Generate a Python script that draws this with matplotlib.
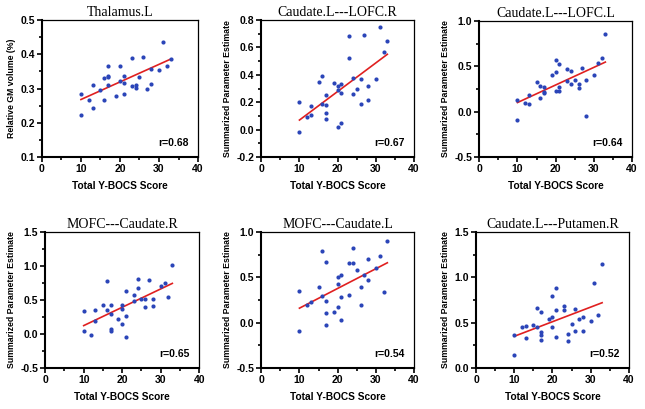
import matplotlib
matplotlib.use('Agg')
import matplotlib.pyplot as plt
from matplotlib.ticker import MultipleLocator

# panel 1: Thalamus.L (31 points)
thal_x = [10, 10, 12, 13, 13, 15, 16, 16, 17, 17, 17, 17, 19, 20, 20, 21,
          21, 21, 23, 23, 24, 24, 25, 26, 27, 28, 28, 30, 31, 32, 33]
thal_y = [0.285, 0.223, 0.268, 0.310, 0.242, 0.296, 0.330, 0.268, 0.366, 0.337,
          0.333, 0.310, 0.279, 0.366, 0.322, 0.337, 0.316, 0.284, 0.390, 0.308,
          0.310, 0.302, 0.334, 0.393, 0.298, 0.358, 0.314, 0.354, 0.437, 0.365,
          0.387]

# panel 2: Caudate.L---LOFC.R
lofcr_x = [10, 10, 12, 13, 13, 15, 16, 16, 17, 17, 17, 17, 19, 20, 20, 20, 21,
           21, 21, 23, 23, 24, 24, 25, 26, 26, 27, 28, 28, 30, 31, 32, 33]
lofcr_y = [0.20, -0.02, 0.09, 0.17, 0.11, 0.35, 0.39, 0.19, 0.25, 0.18, 0.12,
           0.08, 0.34, 0.32, 0.29, 0.02, 0.33, 0.27, 0.05, 0.68, 0.52, 0.38,
           0.26, 0.30, 0.37, 0.19, 0.69, 0.32, 0.22, 0.37, 0.75, 0.57, 0.65]

# panel 3: Caudate.L---LOFC.L
lofcl_x = [10, 10, 12, 13, 13, 15, 16, 16, 17, 17, 17, 19, 20, 20, 20, 21, 21,
           21, 23, 23, 24, 24, 25, 26, 26, 27, 28, 28, 30, 31, 32, 33]
lofcl_y = [0.13, -0.09, 0.10, 0.18, 0.08, 0.33, 0.28, 0.15, 0.27, 0.22, 0.20,
           0.40, 0.57, 0.44, 0.23, 0.53, 0.27, 0.23, 0.47, 0.34, 0.45, 0.31,
           0.35, 0.30, 0.26, 0.48, 0.35, -0.05, 0.40, 0.54, 0.59, 0.86]

# panel 4: MOFC---Caudate.R
mcr_x = [10, 10, 12, 13, 13, 15, 16, 16, 17, 17, 17, 17, 19, 20, 20, 20, 21,
         21, 21, 23, 23, 24, 24, 25, 26, 26, 27, 28, 28, 30, 31, 32, 33]
mcr_y = [0.34, 0.04, -0.01, 0.35, 0.19, 0.43, 0.78, 0.35, 0.43, 0.30, 0.07,
         0.04, 0.22, 0.43, 0.37, 0.15, 0.63, 0.26, -0.04, 0.57, 0.49, 0.81,
         0.68, 0.52, 0.52, 0.39, 0.80, 0.52, 0.41, 0.71, 0.75, 0.55, 1.02]

# panel 5: MOFC---Caudate.L
mcl_x = [10, 10, 12, 13, 15, 16, 16, 17, 17, 17, 17, 19, 20, 20, 20, 21, 21,
         21, 23, 23, 24, 24, 25, 26, 26, 27, 28, 28, 30, 31, 32, 33]
mcl_y = [0.35, -0.09, 0.20, 0.23, 0.39, 0.79, 0.29, 0.67, 0.24, 0.11, -0.02,
         0.12, 0.50, 0.43, 0.17, 0.52, 0.28, 0.03, 0.66, 0.31, 0.82, 0.66,
         0.58, 0.39, 0.20, 0.53, 0.70, 0.47, 0.60, 0.73, 0.34, 0.90]

# panel 6: Caudate.L---Putamen.R
put_x = [10, 10, 12, 13, 13, 15, 16, 16, 17, 17, 17, 17, 19, 20, 20, 20, 21,
         21, 21, 23, 23, 24, 24, 25, 26, 26, 27, 28, 28, 30, 31, 32, 33]
put_y = [0.37, 0.14, 0.45, 0.46, 0.33, 0.48, 0.66, 0.45, 0.62, 0.40, 0.37,
         0.31, 0.54, 0.79, 0.56, 0.45, 0.88, 0.64, 0.34, 0.68, 0.64, 0.38,
         0.30, 0.49, 0.65, 0.41, 0.54, 0.56, 0.41, 0.52, 0.94, 0.59, 1.15]

titles = ['Thalamus.L', 'Caudate.L---LOFC.R', 'Caudate.L---LOFC.L',
          'MOFC---Caudate.R', 'MOFC---Caudate.L', 'Caudate.L---Putamen.R']
xs = [thal_x, lofcr_x, lofcl_x, mcr_x, mcl_x, put_x]
ys = [thal_y, lofcr_y, lofcl_y, mcr_y, mcl_y, put_y]
r_vals = ['0.68', '0.67', '0.64', '0.65', '0.54', '0.52']

# fit line end points (x = 10 and x = 33)
fit_x = [10, 33]
fit_y = [[0.268, 0.386], [0.07, 0.55], [0.10, 0.546],
         [0.124, 0.744], [0.16, 0.66], [0.35, 0.72]]

ylims = [(0.1, 0.5), (-0.2, 0.8), (-0.5, 1.0), (-0.5, 1.5), (-0.5, 1.0), (0.0, 1.5)]
ysteps = [0.1, 0.2, 0.5, 0.5, 0.5, 0.5]
ylabels = ['Relative GM volume (%)'] + ['Summarized Parameter Estimate'] * 5

# axes rectangles [left, bottom, width, height] in figure fraction
boxes = [[0.065, 0.616, 0.242, 0.335], [0.405, 0.616, 0.237, 0.335],
         [0.743, 0.616, 0.237, 0.333], [0.070, 0.100, 0.239, 0.333],
         [0.405, 0.100, 0.237, 0.333], [0.738, 0.100, 0.237, 0.333]]

fig = plt.figure(figsize=(6.45, 4.09), dpi=100)
sans = 'Liberation Sans'
for i in range(6):
    ax = fig.add_axes(boxes[i])
    ax.scatter(xs[i], ys[i], s=9, color='#2b45b8', zorder=3, linewidths=0)
    ax.plot(fit_x, fit_y[i], color='#e02020', lw=1.2, zorder=2)
    ax.set_xlim(0, 40)
    ax.set_ylim(*ylims[i])
    ax.xaxis.set_major_locator(MultipleLocator(10))
    ax.xaxis.set_minor_locator(MultipleLocator(5))
    ax.yaxis.set_major_locator(MultipleLocator(ysteps[i]))
    ax.yaxis.set_minor_locator(MultipleLocator(ysteps[i] / 2))
    ax.yaxis.set_major_formatter(matplotlib.ticker.FormatStrFormatter('%.1f'))
    ax.tick_params(which='both', direction='out', width=1.2, pad=1.5,
                   labelsize=7.5)
    ax.tick_params(which='major', length=3.5)
    ax.tick_params(which='minor', length=2.5)
    for lab in ax.get_xticklabels() + ax.get_yticklabels():
        lab.set_fontfamily(sans)
        lab.set_fontweight('bold')
    ax.spines['left'].set_linewidth(1.5)
    ax.spines['bottom'].set_linewidth(1.5)
    ax.spines['top'].set_linewidth(0.9)
    ax.spines['right'].set_linewidth(0.9)
    ax.set_title(titles[i], family='Liberation Serif', fontsize=10, pad=3)
    ax.set_xlabel('Total Y-BOCS Score', family=sans, fontweight='bold',
                  fontsize=7.3, labelpad=5)
    ax.set_ylabel(ylabels[i], family=sans, fontweight='bold', fontsize=6.3,
                  labelpad=3)
    ax.text(0.94, 0.1, 'r=' + r_vals[i], transform=ax.transAxes, ha='right',
            va='center', family=sans, fontweight='bold', fontsize=7.5)

fig.savefig('out.png', dpi=100)
